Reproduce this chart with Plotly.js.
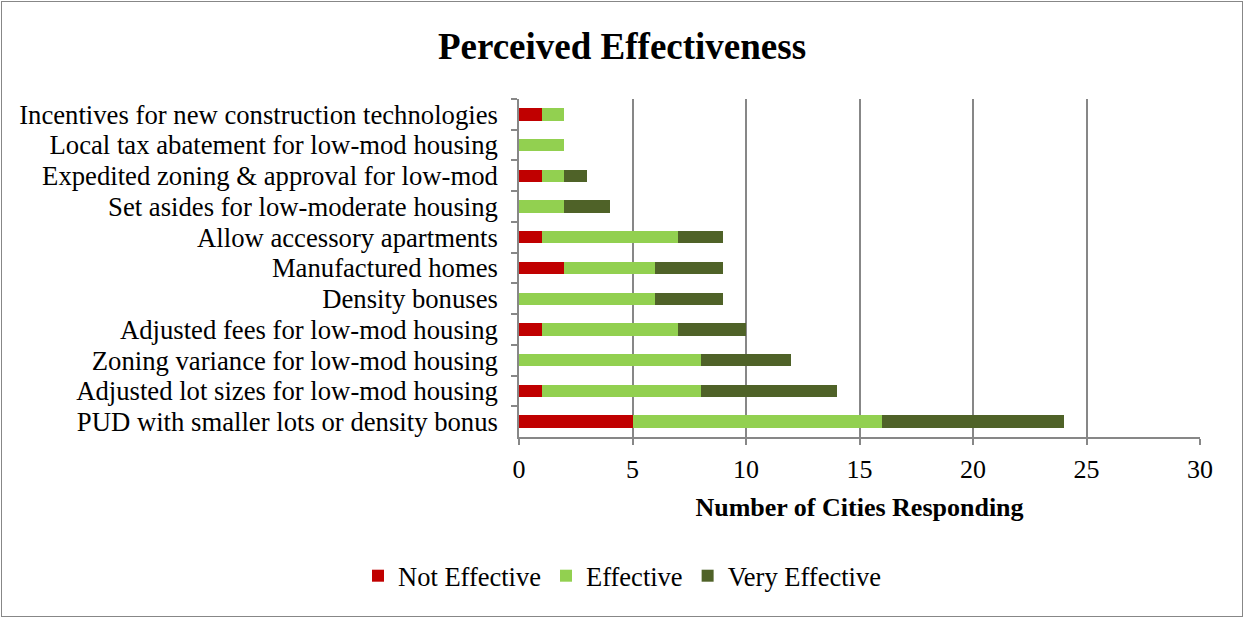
<!DOCTYPE html>
<html>
<head>
<meta charset="utf-8">
<script src="https://cdn.plot.ly/plotly-3.0.1.min.js"></script>
<style>
  html, body { margin: 0; padding: 0; background: #fff; }
  #wrap { position: relative; width: 1244px; height: 618px; }
  #chart { width: 1244px; height: 618px; }
  #frame { position: absolute; left: 1px; top: 1px; width: 1240px; height: 614px;
           border: 1px solid #878787; pointer-events: none; }
</style>
</head>
<body>
<div id="wrap">
  <div id="chart"></div>
  <div id="frame"></div>
</div>
<script>
const categories = [
  "Incentives for new construction technologies",
  "Local tax abatement for low-mod housing",
  "Expedited zoning & approval for low-mod",
  "Set asides for low-moderate housing",
  "Allow accessory apartments",
  "Manufactured homes",
  "Density bonuses",
  "Adjusted fees for low-mod housing",
  "Zoning variance for low-mod housing",
  "Adjusted lot sizes for low-mod housing",
  "PUD with smaller lots or density bonus"
];
const notEffective  = [1, 0, 1, 0, 1, 2, 0, 1, 0, 1, 5];
const effective     = [1, 2, 1, 2, 6, 4, 6, 6, 8, 7, 11];
const veryEffective = [0, 0, 1, 2, 2, 3, 3, 3, 4, 6, 8];
const xTicks = [0, 5, 10, 15, 20, 25, 30];

const font = "Liberation Serif, Times New Roman, serif";
const mk = (name, vals, color) => ({
  type: 'bar', orientation: 'h', name: name,
  x: vals, y: categories,
  marker: { color: color, line: { width: 0 } },
  hoverinfo: 'x+y'
});

const data = [
  mk('Not Effective', notEffective, '#C00000'),
  mk('Effective', effective, '#92D050'),
  mk('Very Effective', veryEffective, '#4F6228')
];

const layout = {
  width: 1244, height: 618,
  margin: { l: 519, r: 44, t: 99, b: 181 },
  paper_bgcolor: '#fff', plot_bgcolor: '#fff',
  barmode: 'stack', bargap: 0.6,
  font: { family: font, color: '#000', size: 26 },
  title: { text: '<b>Perceived Effectiveness</b>', x: 0.5, xref: 'container', xanchor: 'center',
           y: 1, yref: 'container', yanchor: 'top', pad: { t: 33 },
           font: { family: font, size: 37, color: '#000' } },
  xaxis: {
    range: [0, 30], tickvals: xTicks, ticktext: xTicks.map(String),
    showgrid: true, gridcolor: '#878787', gridwidth: 1.5,
    showline: true, linecolor: '#878787', linewidth: 1.5,
    ticks: 'outside', ticklen: 6, tickcolor: '#878787', tickwidth: 1.5,
    ticklabelstandoff: 2,
    zeroline: false, fixedrange: true,
    tickfont: { family: font, size: 26, color: '#000' },
    title: { text: '<b>Number of Cities Responding</b>', standoff: 15,
             font: { family: font, size: 26, color: '#000' } }
  },
  yaxis: {
    type: 'category', autorange: 'reversed',
    tickmode: 'linear', dtick: 1,
    showline: true, linecolor: '#878787', linewidth: 1.5,
    ticks: 'outside', ticklen: 6, tickcolor: '#878787', tickwidth: 1.5,
    tickson: 'boundaries', showgrid: false, zeroline: false, fixedrange: true,
    ticklabelstandoff: 14,
    tickfont: { family: font, size: 26.7, color: '#000' }
  },
  legend: { orientation: 'h', x: 0.5, xref: 'container', xanchor: 'center',
            y: 0.068, yref: 'container', yanchor: 'middle',
            font: { family: font, size: 26.5, color: '#000' },
            itemclick: false, itemdoubleclick: false,
            traceorder: 'normal' },
  showlegend: true
};

Plotly.newPlot('chart', data, layout, { displayModeBar: false });
</script>
</body>
</html>
